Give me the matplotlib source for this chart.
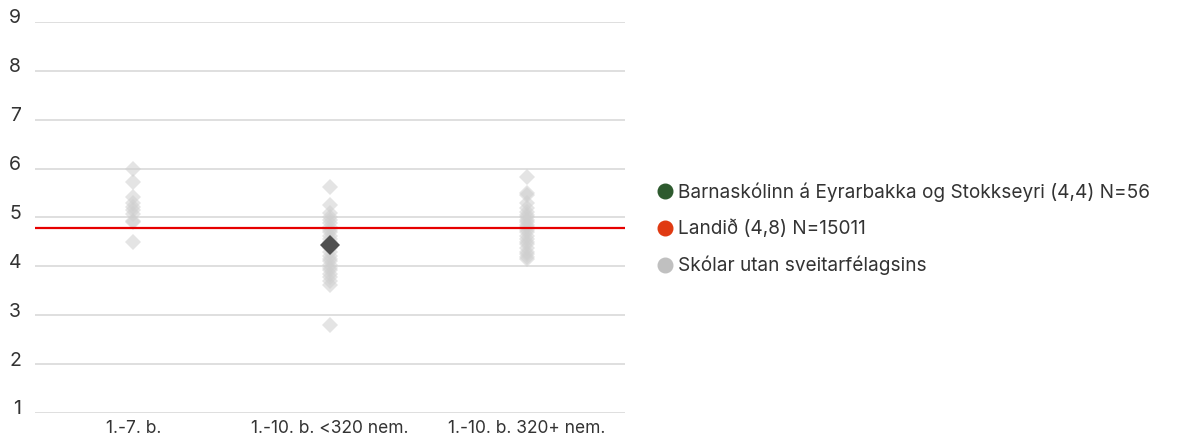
import matplotlib.pyplot as plt
import matplotlib.transforms as mtransforms
from matplotlib.lines import Line2D

plt.rcParams['font.family'] = ['Inter', 'DejaVu Sans']

categories = ['1.-7. b.', '1.-10. b. <320 nem.', '1.-10. b. 320+ nem.']
# scores of other schools in each group
group_small = [6.0, 5.73, 5.42, 5.3, 5.22, 5.15, 5.08, 4.93, 4.9, 4.5]
group_mid = [5.63, 5.25, 5.1, 5.0, 4.95, 4.88, 4.8, 4.75, 4.7, 4.62, 4.55, 4.5,
             4.38, 4.3, 4.22, 4.15, 4.1, 4.03, 3.97, 3.92, 3.85, 3.78, 3.7, 3.62, 2.8]
group_big = [5.83, 5.5, 5.45, 5.3, 5.2, 5.12, 5.05, 5.0, 4.95, 4.9, 4.85, 4.8,
             4.75, 4.7, 4.62, 4.55, 4.5, 4.45, 4.38, 4.3, 4.25, 4.2, 4.15]
school_cat = 1
school_value = 4.44
national_value = 4.78
legend_labels = ['Barnaskólinn á Eyrarbakka og Stokkseyri (4,4) N=56',
                 'Landið (4,8) N=15011',
                 'Skólar utan sveitarfélagsins']

fig = plt.figure(figsize=(11.87, 4.4), dpi=100)
ax = fig.add_axes([0.0295, 0.0614, 0.497, 0.8886])

for i, vals in enumerate([group_small, group_mid, group_big]):
    ax.plot([i] * len(vals), vals, 'D', color='#cfcfcf', alpha=0.55, ms=8.6,
            mew=0, zorder=3, clip_on=False)

ax.axhline(national_value, color='#e60000', lw=1.6, zorder=4)
ax.plot([school_cat], [school_value], 'D', color='#505050', ms=10, mew=0, zorder=5)

ax.set_xlim(-0.5, 2.5)
ax.set_ylim(1, 9)
ax.set_yticks(range(1, 10))
ax.set_xticks(range(len(categories)))
ax.set_xticklabels(categories)
ax.grid(axis='y', color='#d9d9d9', lw=1.2)
ax.set_axisbelow(True)
for s in ax.spines.values():
    s.set_visible(False)
ax.tick_params(axis='y', length=0, pad=10, labelsize=14, labelcolor='#333333')
ax.tick_params(axis='x', length=0, pad=5, labelsize=12.5, labelcolor='#333333')
# y labels sit a little above their gridline
shift = mtransforms.ScaledTranslation(0, 4 / 72, fig.dpi_scale_trans)
for lbl in ax.get_yticklabels():
    lbl.set_transform(lbl.get_transform() + shift)

handles = [Line2D([], [], marker='o', ls='', color=c, ms=10.5)
           for c in ['#2d5a2e', '#e03a12', '#c0c0c0']]
fig.legend(handles, legend_labels, loc='upper left', bbox_to_anchor=(0.539, 0.624),
           frameon=False, fontsize=13.7, labelspacing=0.92, handlelength=0.8,
           handletextpad=0.3, labelcolor='#333333')

plt.savefig('out.png', dpi=100)
